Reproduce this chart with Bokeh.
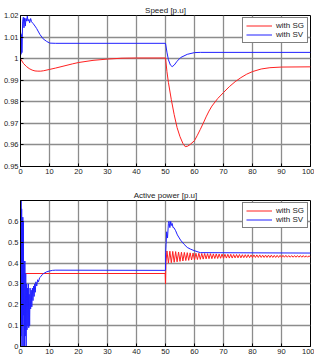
from bokeh.plotting import figure
from bokeh.layouts import column
from bokeh.models import FixedTicker, Legend, LegendItem
from bokeh.embed import file_html
from bokeh.resources import INLINE

FONT = "Liberation Sans"

# ---------------- data ----------------
x_ticks = [0, 10, 20, 30, 40, 50, 60, 70, 80, 90, 100]
x_labels = ["0", "10", "20", "30", "40", "50", "60", "70", "80", "90", "100"]

speed_ticks = [0.95, 0.96, 0.97, 0.98, 0.99, 1.0, 1.01, 1.02]
speed_labels = ["0.95", "0.96", "0.97", "0.98", "0.99", "1", "1.01", "1.02"]

power_ticks = [0, 0.1, 0.2, 0.3, 0.4, 0.5, 0.6, 0.7]
power_labels = ["0", "0.1", "0.2", "0.3", "0.4", "0.5", "0.6", ""]

# Speed with SG (red)
sg_speed_t = [0, 1, 2, 3, 4, 5, 6, 7, 8, 10, 12, 15, 18, 20, 25, 30, 35, 40, 50,
              50.5, 51, 52, 53, 54, 55, 56, 56.8, 57.6, 58.5, 60, 61, 62, 63, 64,
              65, 66, 68, 70, 72, 74, 76, 78, 80, 83, 86, 90, 100]
sg_speed_v = [1.0, 0.9978, 0.9964, 0.9954, 0.9947, 0.9943, 0.9942, 0.9942, 0.9944,
              0.995, 0.9956, 0.9966, 0.9976, 0.9982, 0.9992, 0.9998, 1.0002, 1.0003,
              1.0003, 0.994, 0.989, 0.981, 0.974, 0.968, 0.9638, 0.9607, 0.9592,
              0.9594, 0.9602, 0.962, 0.9645, 0.9672, 0.970, 0.973, 0.9757, 0.978,
              0.9815, 0.9843, 0.987, 0.9893, 0.9912, 0.9928, 0.994, 0.9952, 0.9958,
              0.9961, 0.9962]

# Speed with SV (blue)
sv_speed_t = [0, 0.06, 0.17, 0.4, 0.5, 0.74, 0.97, 1.2, 1.43, 1.66, 1.89, 2.1, 2.35,
              2.6, 2.9, 3.15, 3.5, 3.8, 4.4, 5.0, 5.55, 6.7, 7.8, 9.0, 10.1, 12, 50,
              50.5, 51, 51.7, 52.3, 53, 54, 55.2, 57.5, 60, 62, 100]
sv_speed_v = [1.0, 1.012, 1.002, 1.0112, 1.0028, 1.0174, 1.0192, 1.0143, 1.0189,
              1.0151, 1.0186, 1.0174, 1.0197, 1.0174, 1.0182, 1.0166, 1.0186, 1.0171,
              1.0162, 1.0151, 1.014, 1.0112, 1.0092, 1.008, 1.0072, 1.0071, 1.0071,
              1.003, 0.9995, 0.997, 0.9963, 0.997, 0.9988, 1.0005, 1.002, 1.0028,
              1.0029, 1.0029]

# Active power with SG (red)
sg_power_t = [0, 49.9, 50.0, 50.15,
              50.5, 51, 51.5, 52, 52.5, 53, 53.5, 54, 54.5, 55, 55.5, 56, 56.5, 57,
              57.5, 58, 58.5, 59, 59.5, 60, 60.5, 61, 61.5, 62, 62.5, 63, 63.5, 64,
              64.5, 65, 65.5, 66, 66.5, 67, 67.5, 68, 68.5, 69, 69.5, 70, 70.5, 71,
              71.5, 72, 72.5, 73, 73.5, 74, 74.5, 75, 75.5, 76, 76.5, 77, 77.5, 78,
              78.5, 79, 79.5, 80, 80.5, 81, 81.5, 82, 82.5, 83, 83.5, 84, 84.5, 85,
              85.5, 86, 86.5, 87, 87.5, 88, 88.5, 89, 89.5, 90, 90.5, 91, 91.5, 92,
              92.5, 93, 93.5, 94, 94.5, 95, 95.5, 96, 96.5, 97, 97.5, 98, 98.5, 99,
              99.5, 100]
sg_power_v = [0.35, 0.35, 0.30, 0.40,
              0.458, 0.400, 0.457, 0.402, 0.456, 0.404, 0.455, 0.406, 0.453, 0.408,
              0.452, 0.410, 0.451, 0.412, 0.450, 0.413, 0.449, 0.415, 0.448, 0.416,
              0.447, 0.417, 0.447, 0.418, 0.446, 0.419, 0.446, 0.420, 0.445, 0.421,
              0.445, 0.421, 0.444, 0.422, 0.444, 0.422, 0.443, 0.423, 0.443, 0.423,
              0.442, 0.424, 0.442, 0.424, 0.442, 0.424, 0.441, 0.425, 0.441, 0.425,
              0.441, 0.425, 0.440, 0.426, 0.440, 0.426, 0.440, 0.426, 0.439, 0.426,
              0.439, 0.427, 0.439, 0.427, 0.439, 0.427, 0.438, 0.427, 0.438, 0.427,
              0.438, 0.427, 0.438, 0.427, 0.437, 0.427, 0.437, 0.427, 0.437, 0.427,
              0.437, 0.428, 0.437, 0.428, 0.436, 0.428, 0.436, 0.428, 0.436, 0.428,
              0.436, 0.428, 0.436, 0.428, 0.436, 0.428, 0.435, 0.428, 0.435, 0.428]

# Active power with SV (blue)
sv_power_t = [0, 0.1, 0.2, 0.3, 0.4, 0.5, 0.6, 0.7, 0.8, 0.9, 1.0, 1.1, 1.2, 1.35,
              1.5, 1.65, 1.8, 1.95, 2.1, 2.25, 2.4, 2.55, 2.7, 2.85, 3.0, 3.15, 3.3,
              3.5, 3.7, 3.9, 4.1, 4.3, 4.5, 4.7, 4.9, 5.1, 5.3, 5.6, 5.9, 6.2, 6.6,
              7.0, 7.5, 8.0, 9.0, 10.0, 11.0, 12.0, 50.0, 50.05, 50.2, 50.4, 50.7,
              51.0, 51.2, 51.5, 51.8, 52.0, 52.3, 52.6, 52.9, 53.5, 54.1, 55.2, 56.4,
              57.5, 58.6, 59.8, 62.0, 100.0]
sv_power_v = [0.75, 0.30, 0.72, 0.05, 0.66, 0.0, 0.60, 0.10, 0.62, 0.0, 0.60, 0.15,
              0.41, 0.0, 0.41, 0.05, 0.35, 0.0, 0.30, 0.08, 0.28, 0.10, 0.30, 0.09,
              0.25, 0.10, 0.28, 0.18, 0.27, 0.19, 0.28, 0.22, 0.29, 0.24, 0.30, 0.26,
              0.31, 0.29, 0.32, 0.31, 0.33, 0.335, 0.345, 0.35, 0.358, 0.362, 0.365,
              0.366, 0.365, 0.45, 0.49, 0.55, 0.52, 0.59, 0.60, 0.57, 0.60, 0.58,
              0.59, 0.57, 0.57, 0.555, 0.535, 0.51, 0.49, 0.475, 0.467, 0.46, 0.45,
              0.448]

RED = "#ff2020"
BLUE = "#2020ff"
GRID = "#8c8c8c"


def make_fig(title, height, yr, yticks, ylabels, top, bottom):
    p = figure(width=314, height=height, x_range=(0, 100), y_range=yr,
               output_backend="svg", toolbar_location=None, title=title,
               min_border_left=17, min_border_right=4,
               min_border_top=top, min_border_bottom=bottom)
    p.title.text_font = FONT
    p.title.text_font_size = "8px"
    p.title.text_font_style = "normal"
    p.title.text_color = "#222222"
    p.title.align = "center"
    p.title.standoff = 2
    p.outline_line_color = "black"
    p.outline_line_width = 1
    p.outline_line_alpha = 1

    p.xaxis.ticker = FixedTicker(ticks=x_ticks)
    p.xaxis.major_label_overrides = {t: l for t, l in zip(x_ticks, x_labels)}
    p.yaxis.ticker = FixedTicker(ticks=yticks)
    p.yaxis.major_label_overrides = {t: l for t, l in zip(yticks, ylabels)}
    for ax in (p.xaxis[0], p.yaxis[0]):
        ax.major_label_text_font = FONT
        ax.major_label_text_font_size = "7.5px"
        ax.major_label_text_color = "#222222"
        ax.major_tick_in = 3
        ax.major_tick_out = 0
        ax.minor_tick_in = 0
        ax.minor_tick_out = 0
        ax.axis_line_color = "black"
        ax.major_tick_line_color = "black"
    p.xaxis.major_label_standoff = 2
    p.yaxis.major_label_standoff = 2

    p.xgrid.grid_line_color = GRID
    p.ygrid.grid_line_color = GRID
    p.xgrid.grid_line_width = 1.3
    p.ygrid.grid_line_width = 1.3
    p.xgrid.grid_line_alpha = 1
    p.ygrid.grid_line_alpha = 1
    p.xgrid.level = "image"
    p.ygrid.level = "image"
    return p


def style_legend(p, items):
    leg = Legend(items=items, location="top_right")
    leg.label_text_font = FONT
    leg.label_text_font_size = "8px"
    leg.label_text_color = "#222222"
    leg.border_line_color = "black"
    leg.border_line_width = 1
    leg.background_fill_color = "white"
    leg.background_fill_alpha = 1
    leg.padding = 3
    leg.spacing = 0
    leg.margin = 2
    leg.glyph_width = 26
    leg.glyph_height = 9
    leg.label_height = 9
    leg.label_standoff = 4
    p.add_layout(leg)


p1 = make_fig("Speed [p.u]", 180, (0.95, 1.02), speed_ticks, speed_labels, 15, 14)
r1 = p1.line(sg_speed_t, sg_speed_v, line_color=RED, line_width=1)
r2 = p1.line(sv_speed_t, sv_speed_v, line_color=BLUE, line_width=1)
style_legend(p1, [LegendItem(label="with SG", renderers=[r1]),
                  LegendItem(label="with SV", renderers=[r2])])

p2 = make_fig("Active power [p.u]", 179, (0, 0.7), power_ticks, power_labels, 20, 13)
r3 = p2.line(sg_power_t, sg_power_v, line_color=RED, line_width=1)
r4 = p2.line(sv_power_t, sv_power_v, line_color=BLUE, line_width=1)
style_legend(p2, [LegendItem(label="with SG", renderers=[r3]),
                  LegendItem(label="with SV", renderers=[r4])])

layout = column(p1, p2, spacing=0)
open("out.html", "w").write(file_html(layout, INLINE))
